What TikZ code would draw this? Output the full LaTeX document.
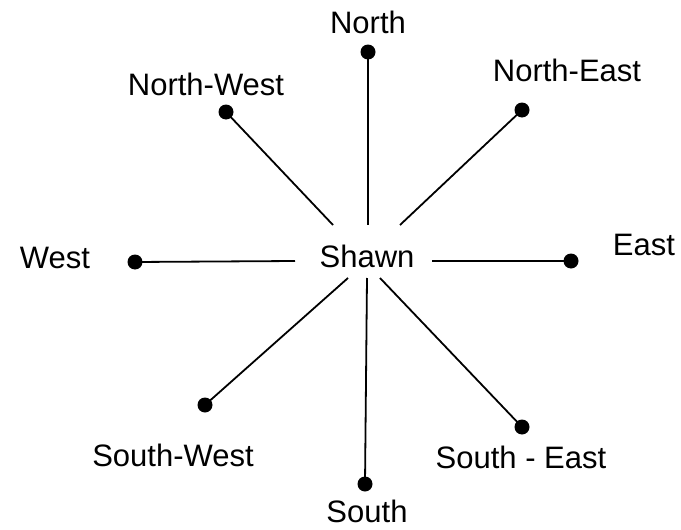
\documentclass[tikz,border=0pt]{standalone}
\usepackage{fontspec}
\setmainfont{Liberation Sans}
\usetikzlibrary{positioning}

\begin{document}
\begin{tikzpicture}[x=1pt,y=-1pt,
  label/.style={inner sep=0pt,font=\fontsize{31}{36}\selectfont},
  dot/.style={circle,fill=black,inner sep=0pt,minimum size=15pt},
  spoke/.style={line width=1.8pt}
]
\useasboundingbox (0,0) rectangle (681,530);
% centre
\node[label] (shawn) at (367,256) {Shawn};
% inner ends of the spokes
\coordinate (in-n) at (368,225);
\coordinate (in-ne) at (400,225);
\coordinate (in-nw) at (333,225);
\coordinate (in-w) at (295,261);
\coordinate (in-e) at (432,261);
\coordinate (in-sw) at (348,278);
\coordinate (in-s) at (367,278);
\coordinate (in-se) at (380,278);
% dots
\node[dot] (d-n) at (368,52) {};
\node[dot] (d-ne) at (522,110) {};
\node[dot] (d-nw) at (226,112) {};
\node[dot] (d-w) at (135,262) {};
\node[dot] (d-e) at (571,261) {};
\node[dot] (d-sw) at (205,405) {};
\node[dot] (d-s) at (365,484) {};
\node[dot] (d-se) at (522,427) {};
% labels
\node[label] (north) at (368,22) {North};
\node[label] (northeast) at (567,70) {North-East};
\node[label] (northwest) at (206,84) {North-West};
\node[label] (west) at (55,258) {West};
\node[label] (east) at (644,245) {East};
\node[label] (southwest) at (173,455) {South-West};
\node[label] (south) at (367,511) {South};
\node[label] (southeast) at (521,457) {South - East};
% spokes
\draw[spoke] (d-n.center) -- (in-n);
\draw[spoke] (d-ne.center) -- (in-ne);
\draw[spoke] (d-nw.center) -- (in-nw);
\draw[spoke] (d-w.center) -- (in-w);
\draw[spoke] (d-e.center) -- (in-e);
\draw[spoke] (d-sw.center) -- (in-sw);
\draw[spoke] (d-s.center) -- (in-s);
\draw[spoke] (d-se.center) -- (in-se);
\end{tikzpicture}
\end{document}
